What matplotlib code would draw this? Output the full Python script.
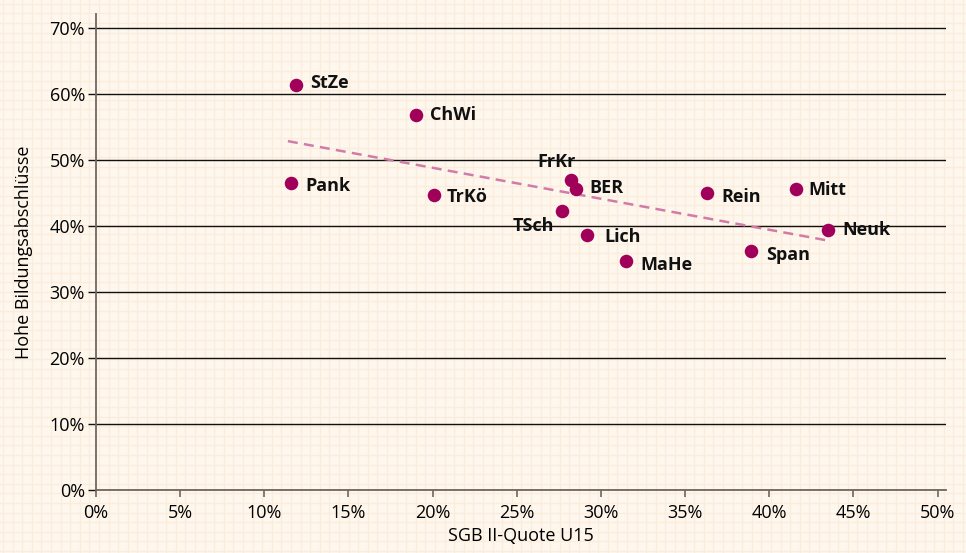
import matplotlib

matplotlib.use("Agg")
import matplotlib.pyplot as plt
import numpy as np
from matplotlib.ticker import FuncFormatter

# districts: SGB II rate U15 (x, %) vs. share of high education (y, %)
names = ["StZe", "ChWi", "Pank", "TrKö", "FrKr", "BER", "TSch",
         "Lich", "MaHe", "Rein", "Mitt", "Neuk", "Span"]
sgb_quote = [11.9, 19.0, 11.6, 20.1, 28.2, 28.5, 27.7,
             29.2, 31.5, 36.3, 41.6, 43.5, 38.9]
bildung = [61.4, 56.8, 46.5, 44.7, 47.0, 45.6, 42.3,
           38.6, 34.7, 45.0, 45.6, 39.4, 36.2]
x_ticks = [0, 5, 10, 15, 20, 25, 30, 35, 40, 45, 50]
y_ticks = [0, 10, 20, 30, 40, 50, 60, 70]

# label offsets in points (dx, dy, ha)
label_pos = {
    "StZe": (10, 1, "left"),
    "ChWi": (10, 0, "left"),
    "Pank": (10, -2, "left"),
    "TrKö": (9, -1.5, "left"),
    "FrKr": (-10, 13, "center"),
    "BER": (10, 1, "left"),
    "TSch": (-6, -11, "right"),
    "Lich": (12, -1, "left"),
    "MaHe": (10, -3, "left"),
    "Rein": (10, -3, "left"),
    "Mitt": (9, -1, "left"),
    "Neuk": (10, 0, "left"),
    "Span": (11, -3, "left"),
}

plt.rcParams["font.family"] = ["Open Sans", "DejaVu Sans"]

fig = plt.figure(figsize=(9.66, 5.53), dpi=100)
fig.patch.set_facecolor("#fef7ee")

# faint graph paper background
bg = fig.add_axes([0, 0, 1, 1], zorder=-10)
bg.set_xlim(0, 966)
bg.set_ylim(0, 553)
bg.set_facecolor("#fef7ee")
bg.set_xticks(np.arange(3, 966, 9.6))
bg.set_yticks(np.arange(2, 553, 9.6))
bg.grid(True, color="#fcecda", lw=0.9)
bg.tick_params(length=0, labelbottom=False, labelleft=False)
for s in bg.spines.values():
    s.set_visible(False)

ax = fig.add_axes([96 / 966, 63 / 553, 850 / 966, 476 / 553])
ax.patch.set_alpha(0)
ax.set_xlim(0, 50.5)
ax.set_ylim(0, 72.1)

ax.set_xticks(x_ticks)
ax.set_yticks(y_ticks)
pct = FuncFormatter(lambda v, _: f"{v:.0f}%")
ax.xaxis.set_major_formatter(pct)
ax.yaxis.set_major_formatter(pct)
ax.grid(axis="y", color="#111111", lw=1.0, zorder=1)
ax.tick_params(axis="y", length=6, width=1.0, color="#111111", labelsize=13, pad=2)
ax.tick_params(axis="x", length=5, width=1.2, color="#6e6762", labelsize=13, pad=5)

for side in ["top", "right"]:
    ax.spines[side].set_visible(False)
for side in ["left", "bottom"]:
    ax.spines[side].set_color("#6e6762")
    ax.spines[side].set_linewidth(1.3)

# trend line (least squares)
x = np.array(sgb_quote)
y = np.array(bildung)
slope, intercept = np.polyfit(x, y, 1)
xs = np.array([x.min() - 0.2, x.max() - 0.15])
ax.plot(xs, slope * xs + intercept, ls=(0, (4, 2.5)), color="#d27ba8", lw=1.8, zorder=2)

ax.scatter(x, y, s=95, color="#a0005a", zorder=3, linewidths=0)

for n, xv, yv in zip(names, sgb_quote, bildung):
    dx, dy, ha = label_pos[n]
    ax.annotate(n, (xv, yv), xytext=(dx, dy), textcoords="offset points",
                ha=ha, va="center", fontsize=13, fontweight="bold", color="#111111")

ax.set_xlabel("SGB II-Quote U15", fontsize=13, labelpad=4)
ax.set_ylabel("Hohe Bildungsabschlüsse", fontsize=13, labelpad=12)

fig.savefig("out.png", dpi=100, facecolor=fig.get_facecolor())
